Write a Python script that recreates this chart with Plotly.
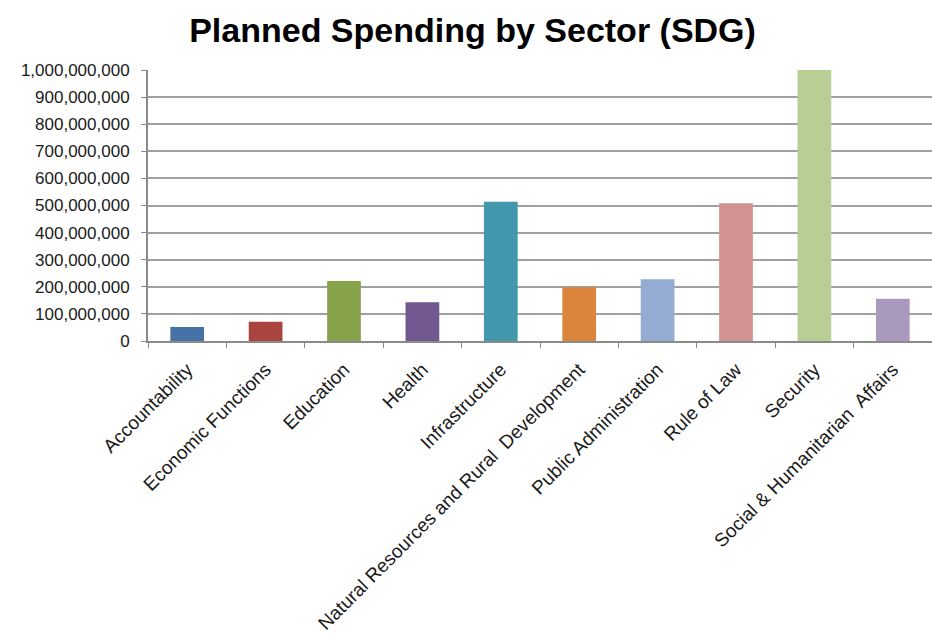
import plotly.graph_objects as go

categories = ["Accountability", "Economic Functions", "Education", "Health", "Infrastructure",
              "Natural Resources and Rural  Development", "Public Administration", "Rule of Law",
              "Security", "Social & Humanitarian  Affairs"]
values = [52e6, 71e6, 221e6, 143e6, 514e6, 198e6, 228e6, 508e6, 1.0e9, 156e6]
colors = ["#4672A8", "#A9443F", "#87A34A", "#715891", "#4397AD",
          "#DB843C", "#94ABD3", "#D29291", "#B9CE94", "#A99ABD"]
ytick_vals = [i * 100_000_000 for i in range(11)]

fig = go.Figure(go.Bar(x=categories, y=values, marker=dict(color=colors, line=dict(width=0))))

fig.update_layout(
    width=932, height=637,
    paper_bgcolor="white", plot_bgcolor="white",
    margin=dict(l=148, r=0, t=70, b=296),
    bargap=0.57,
    showlegend=False,
    font=dict(family="Liberation Sans, Arial, sans-serif", color="#1a1a1a"),
    title=dict(text="<b>Planned Spending by Sector (SDG)</b>", x=0.507, xanchor="center",
               y=0.953, yanchor="middle", font=dict(size=34, color="black")),
)
fig.update_xaxes(
    type="category", tickangle=-45, tickfont=dict(size=19),
    showline=True, linecolor="#8a8a8a", linewidth=2,
    ticks="outside", tickson="boundaries", ticklen=5, tickcolor="#8a8a8a",
    ticklabelstandoff=8, showgrid=False,
)
fig.update_yaxes(
    range=[0, 1e9], tickvals=ytick_vals, tickformat=",d", tickfont=dict(size=17),
    showline=True, linecolor="#8a8a8a", linewidth=2,
    ticks="outside", ticklen=5, tickcolor="#8a8a8a", ticklabelstandoff=8,
    showgrid=True, gridcolor="#a0a0a0", gridwidth=1.5, zeroline=False,
)
fig.write_html("out.html")
